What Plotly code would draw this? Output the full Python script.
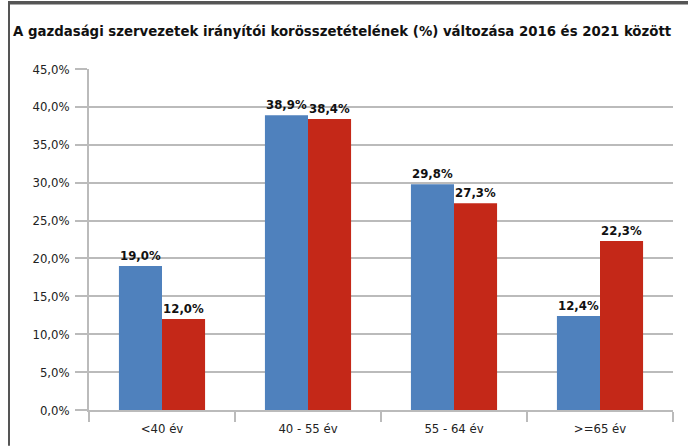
import plotly.graph_objects as go

categories = ["<40 év", "40 - 55 év", "55 - 64 év", ">=65 év"]
values_2016 = [19.0, 38.9, 29.8, 12.4]
values_2021 = [12.0, 38.4, 27.3, 22.3]
series_names = ["2016", "2021"]
title_text = "A gazdasági szervezetek irányítói korösszetételének (%) változása 2016 és 2021 között"

FONT = "DejaVu Sans Condensed, Liberation Sans Narrow, Roboto Condensed, sans-serif"

fig = go.Figure()
fig.add_trace(go.Bar(
    x=categories, y=values_2016, name=series_names[0],
    marker=dict(color="#4F81BD", line=dict(width=0)),
    texttemplate="<b>%{y:.1f}%</b>", textposition="outside", cliponaxis=False,
    textfont=dict(family=FONT, size=13, color="#111111"),
))
fig.add_trace(go.Bar(
    x=categories, y=values_2021, name=series_names[1],
    marker=dict(color="#C42818", line=dict(width=0)),
    texttemplate="<b>%{y:.1f}%</b>", textposition="outside", cliponaxis=False,
    textfont=dict(family=FONT, size=13, color="#111111"),
))

W, H = 688, 448
ml, mr, mt, mb = 89, 15, 69, 36
pw = W - ml - mr
ph = H - mt - mb

fig.update_layout(
    width=W, height=H,
    margin=dict(l=ml, r=mr, t=mt, b=mb),
    paper_bgcolor="white", plot_bgcolor="white",
    separators=", ",
    barmode="group", bargap=0.41, bargroupgap=0,
    showlegend=False,
    font=dict(family=FONT, color="#222222"),
    title=dict(text="<b>" + title_text + "</b>", x=13 / W, xanchor="left",
               y=1 - 31 / H, yanchor="middle",
               font=dict(family=FONT, size=14.8, color="#111111")),
    xaxis=dict(
        showline=True, linecolor="#BBBBBB", linewidth=1.5,
        ticks="outside", tickson="boundaries", ticklen=10, tickcolor="#BBBBBB", tickwidth=1.5,
        tickfont=dict(family=FONT, size=13, color="#222222"),
        ticklabelstandoff=6,
        showgrid=False,
    ),
    yaxis=dict(
        range=[0, 45], dtick=5, tickformat=".1f", ticksuffix="%",
        showline=True, linecolor="#BBBBBB", linewidth=1.5,
        ticks="outside", ticklen=12, tickcolor="#BBBBBB", tickwidth=1.5,
        ticklabelstandoff=3,
        showgrid=True, gridcolor="#BBBBBB", gridwidth=1.5,
        zeroline=False,
        tickfont=dict(family=FONT, size=13, color="#222222"),
    ),
)

# frame lines (left and top border of the chart box)
x_left = (8 - ml) / pw
x_right = (W - ml) / pw
y_top0 = 1 + (mt - 1) / ph
y_top1 = 1 + (mt - 4) / ph
y_bot = -(mb) / ph
fig.add_shape(type="rect", xref="paper", yref="paper", x0=x_left, x1=x_right,
              y0=y_top1, y1=y_top0, fillcolor="#555555", line=dict(width=0), layer="above")
fig.add_shape(type="rect", xref="paper", yref="paper", x0=x_left, x1=(10 - ml) / pw,
              y0=y_bot, y1=y_top0, fillcolor="#555555", line=dict(width=0), layer="above")

post = (
    "document.body.style.margin='0';"
    "var d=document.createElement('div');"
    "d.style.cssText='position:absolute;top:1px;left:8px;width:680px;height:3px;background:#555;z-index:10;pointer-events:none';"
    "document.body.appendChild(d);"
)
fig.write_html("out.html", config={"displayModeBar": False}, post_script=post)
